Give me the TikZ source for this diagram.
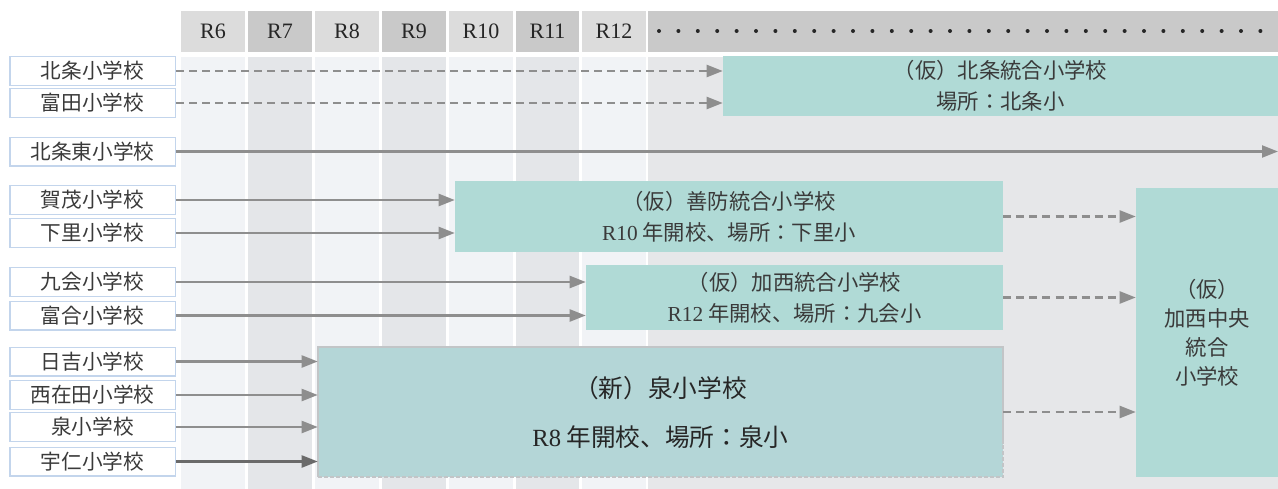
\documentclass[tikz,border=0pt]{standalone}
\usepackage{fontspec}
\setmainfont{Liberation Serif}
\newfontfamily\jp{Noto Sans CJK JP}
\usepackage{tikz}
\usetikzlibrary{arrows.meta}

\definecolor{hdrlight}{HTML}{DCDCDC}
\definecolor{hdrdark}{HTML}{C9C9C9}
\definecolor{bodylight}{HTML}{F1F3F6}
\definecolor{bodydark}{HTML}{E4E6E9}
\definecolor{bodyrest}{HTML}{E6E7E9}
\definecolor{lblborder}{HTML}{C3D5EC}
\definecolor{togofill}{HTML}{B0DAD6}
\definecolor{izumifill}{HTML}{B4D6D7}
\definecolor{izumiborder}{HTML}{C2C5C7}
\definecolor{arrowgray}{HTML}{8E8E8E}
\definecolor{txtgray}{HTML}{3A3A3A}

\tikzset{
	lbl/.style={draw=lblborder, line width=1.1pt, fill=white, minimum width=124.1pt, minimum height=21.4pt, inner sep=0pt, text=txtgray, font=\jp\fontsize{15.5}{18}\selectfont},
	hdr/.style={inner sep=0pt, text=black!85, font=\fontsize{16.5}{18}\selectfont},
	togo/.style={fill=togofill, inner sep=0pt, align=center, text=txtgray, font=\jp\fontsize{16}{23.25}\selectfont},
	izumiline/.style={draw=izumiborder, line width=1.3pt},
	arr/.style={arrowgray, line width=1.6pt, -{Triangle[length=12pt, width=9pt]}},
	darr/.style={arr, dash pattern=on 6pt off 3.8pt},
}

\begin{document}
\begin{tikzpicture}[x=0.75pt, y=-0.75pt]
		%%%%% START %%%%%
		
		\useasboundingbox[fill=white] (0, 0) rectangle (1278, 489);
		
		% header
		\fill[hdrlight] (181, 11) rectangle (245, 52);
		\fill[hdrdark] (248, 11) rectangle (312, 52);
		\fill[hdrlight] (315, 11) rectangle (379, 52);
		\fill[hdrdark] (382, 11) rectangle (446, 52);
		\fill[hdrlight] (449, 11) rectangle (513, 52);
		\fill[hdrdark] (516, 11) rectangle (579, 52);
		\fill[hdrlight] (582, 11) rectangle (646, 52);
		\fill[hdrdark] (648, 11) rectangle (1278, 52);
		
		\node[hdr] (r6) at (213, 31.5) {R6};
		\node[hdr] (r7) at (280, 31.5) {R7};
		\node[hdr] (r8) at (347, 31.5) {R8};
		\node[hdr] (r9) at (414, 31.5) {R9};
		\node[hdr] (r10) at (481, 31.5) {R10};
		\node[hdr] (r11) at (547.5, 31.5) {R11};
		\node[hdr] (r12) at (614, 31.5) {R12};
		
		\draw[black!85, line width=3pt, line cap=round, dash pattern=on 0pt off 14.55pt] (659, 31) -- (1262, 31);
		
		% body stripes
		\fill[bodylight] (181, 57) rectangle (245, 489);
		\fill[bodydark] (248, 57) rectangle (312, 489);
		\fill[bodylight] (315, 57) rectangle (379, 489);
		\fill[bodydark] (382, 57) rectangle (446, 489);
		\fill[bodylight] (449, 57) rectangle (513, 489);
		\fill[bodydark] (516, 57) rectangle (579, 489);
		\fill[bodylight] (582, 57) rectangle (646, 489);
		\fill[bodyrest] (648, 57) rectangle (1278, 489);
		
		% schools
		\node[lbl] (hojo) at (92.5, 71) {北条小学校};
		\node[lbl] (tomida) at (92.5, 103) {富田小学校};
		\node[lbl] (hojohigashi) at (92.5, 151.5) {北条東小学校};
		\node[lbl] (kamo) at (92.5, 200) {賀茂小学校};
		\node[lbl] (shimosato) at (92.5, 233) {下里小学校};
		\node[lbl] (kue) at (92.5, 282) {九会小学校};
		\node[lbl] (tomiai) at (92.5, 315.5) {富合小学校};
		\node[lbl] (hiyoshi) at (92.5, 361.5) {日吉小学校};
		\node[lbl] (nishiarita) at (92.5, 395) {西在田小学校};
		\node[lbl] (izumisho) at (92.5, 427) {泉小学校};
		\node[lbl] (uni) at (92.5, 461.5) {宇仁小学校};
		
		% merged schools
		\node[togo, minimum width=416.25pt, minimum height=45pt] (hojotogo) at (1000.5, 86) {（仮）北条統合小学校\\場所：北条小};
		\node[togo, minimum width=411pt, minimum height=53.25pt] (zenbo) at (729, 216.5) {（仮）善防統合小学校\\{\rmfamily R10} 年開校、場所：下里小};
		\node[togo, minimum width=312.75pt, minimum height=48.75pt] (kasai) at (794.5, 297.5) {（仮）加西統合小学校\\{\rmfamily R12} 年開校、場所：九会小};
		\node[togo, fill=izumifill, text=black!85, minimum width=513.75pt, minimum height=97.5pt, font=\jp\fontsize{18.5}{36.75}\selectfont] (izumi) at (660.5, 412) {（新）泉小学校\\{\rmfamily R8} 年開校、場所：泉小};
		\node[togo, minimum width=106.5pt, minimum height=216.75pt, font=\jp\fontsize{16}{21.75}\selectfont] (chuo) at (1207, 332.5) {（仮）\\加西中央\\統合\\小学校};
		
		\draw[izumiline] ([yshift=26pt]izumi.south east) -- (izumi.north east) -- (izumi.north west) -- (izumi.south west);
		\draw[izumiline, dash pattern=on 3pt off 1.5pt] (izumi.south west) -- (izumi.south east) -- ([yshift=26pt]izumi.south east);
		
		% arrows
		\draw[darr] (hojo.east) -- (hojo.east -| hojotogo.west);
		\draw[darr] (tomida.east) -- (tomida.east -| hojotogo.west);
		
		\coordinate (hend) at (1278, 151.5);
		\draw[arr] (hojohigashi.east) -- (hojohigashi.east -| hend);
		
		\draw[arr] (kamo.east) -- (kamo.east -| zenbo.west);
		\draw[arr] (shimosato.east) -- (shimosato.east -| zenbo.west);
		\draw[arr] (kue.east) -- (kue.east -| kasai.west);
		\draw[arr] (tomiai.east) -- (tomiai.east -| kasai.west);
		
		\draw[arr] (hiyoshi.east) -- (hiyoshi.east -| izumi.west);
		\draw[arr] (nishiarita.east) -- (nishiarita.east -| izumi.west);
		\draw[arr] (izumisho.east) -- (izumisho.east -| izumi.west);
		\draw[arr, color=arrowgray!75!black] (uni.east) -- (uni.east -| izumi.west);
		
		\draw[darr] (zenbo.east) -- (zenbo.east -| chuo.west);
		\draw[darr] (kasai.east) -- (kasai.east -| chuo.west);
		\draw[darr] (izumi.east) -- (izumi.east -| chuo.west);
		
		%%%%% END %%%%%
\end{tikzpicture}
\end{document}
